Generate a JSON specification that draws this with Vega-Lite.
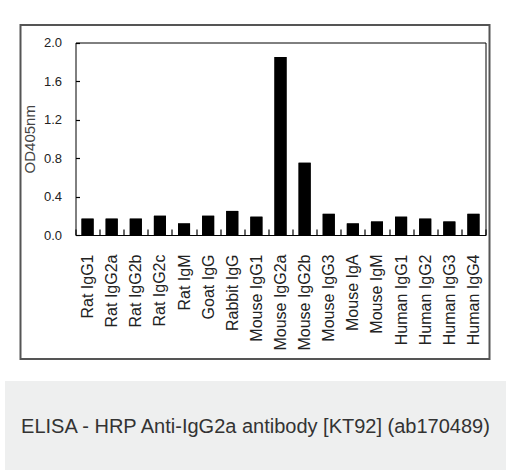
{
  "$schema": "https://vega.github.io/schema/vega-lite/v6.json",
  "padding": {"left": 5, "top": 24, "right": 0, "bottom": 0},
  "background": "white",
  "spacing": 21,
  "center": true,
  "config": {
    "font": "Liberation Sans",
    "axis": {"grid": false, "domainColor": "black", "tickColor": "black"}
  },
  "vconcat": [
    {
      "width": 469,
      "height": 334,
      "view": {"stroke": "#555555", "strokeWidth": 2, "fill": "white"},
      "data": {
        "values": [
          {"antibody": "Rat IgG1", "od": 0.17},
          {"antibody": "Rat IgG2a", "od": 0.17},
          {"antibody": "Rat IgG2b", "od": 0.17},
          {"antibody": "Rat IgG2c", "od": 0.20},
          {"antibody": "Rat IgM", "od": 0.12},
          {"antibody": "Goat IgG", "od": 0.20},
          {"antibody": "Rabbit IgG", "od": 0.25},
          {"antibody": "Mouse IgG1", "od": 0.19},
          {"antibody": "Mouse IgG2a", "od": 1.85},
          {"antibody": "Mouse IgG2b", "od": 0.75},
          {"antibody": "Mouse IgG3", "od": 0.22},
          {"antibody": "Mouse IgA", "od": 0.12},
          {"antibody": "Mouse IgM", "od": 0.14},
          {"antibody": "Human IgG1", "od": 0.19},
          {"antibody": "Human IgG2", "od": 0.17},
          {"antibody": "Human IgG3", "od": 0.14},
          {"antibody": "Human IgG4", "od": 0.22}
        ]
      },
      "layer": [
        {
          "mark": {"type": "bar", "color": "black", "width": {"band": 0.5}},
          "encoding": {
            "x": {
              "field": "antibody", "type": "nominal", "sort": null,
              "scale": {"range": [55, 465], "paddingInner": 0, "paddingOuter": 0},
              "axis": {
                "orient": "bottom", "offset": -124, "title": null,
                "labelAngle": -90, "labelFontSize": 16, "labelColor": "#222222",
                "labelPadding": 25, "tickBand": "extent", "tickSize": -6, "tickWidth": 1.2,
                "domainWidth": 1
              }
            },
            "y": {
              "field": "od", "type": "quantitative",
              "scale": {"domain": [0, 2], "range": [210, 17.5], "nice": false, "zero": true},
              "axis": {
                "orient": "left", "offset": -55,
                "values": [0, 0.4, 0.8, 1.2, 1.6, 2.0], "format": ".1f",
                "tickSize": -4, "tickWidth": 1.2, "labelPadding": 18, "labelFontSize": 13,
                "labelColor": "#222222",
                "title": "OD405nm", "titleFontSize": 15, "titleFontWeight": "normal",
                "titleColor": "#444444", "titlePadding": 6
              }
            }
          }
        },
        {
          "mark": {"type": "bar", "color": "black", "width": {"band": 0.5}},
          "encoding": {
            "x": {
              "field": "antibody", "type": "nominal", "sort": null,
              "scale": {"range": [55, 465], "paddingInner": 0, "paddingOuter": 0},
              "axis": {"orient": "top", "offset": -17.5, "labels": false, "ticks": false, "title": null}
            },
            "y": {
              "field": "od", "type": "quantitative",
              "scale": {"domain": [0, 2], "range": [210, 17.5], "nice": false, "zero": true},
              "axis": {"orient": "right", "offset": -4, "labels": false, "ticks": false, "title": null}
            }
          }
        }
      ],
      "resolve": {"axis": {"x": "independent", "y": "independent"}}
    },
    {
      "width": 501,
      "height": 91,
      "view": {"stroke": null, "fill": "#eeefef"},
      "data": {"values": [{"caption": "ELISA - HRP Anti-IgG2a antibody [KT92] (ab170489)"}]},
      "mark": {"type": "text", "fontSize": 20, "font": "Liberation Sans", "color": "#333333", "baseline": "middle", "align": "center"},
      "encoding": {"text": {"field": "caption", "type": "nominal"}}
    }
  ]
}
